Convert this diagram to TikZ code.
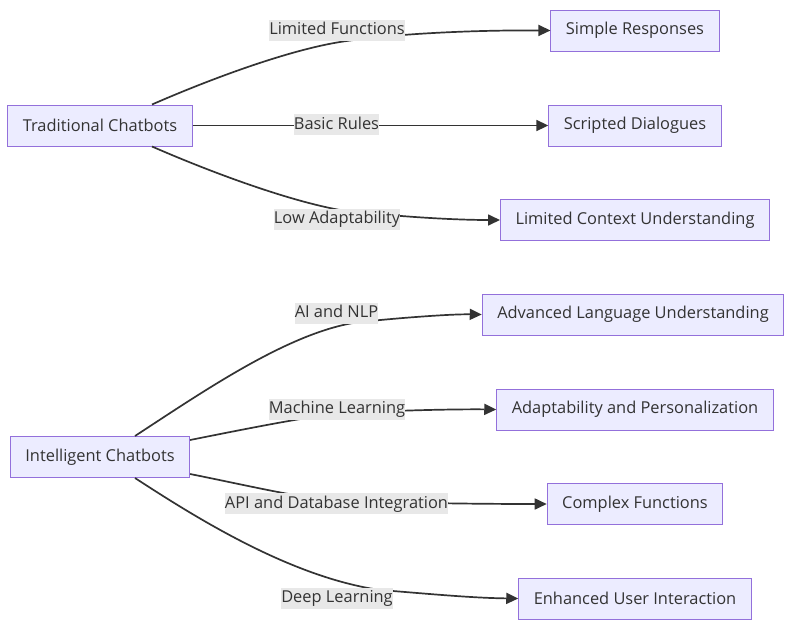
\documentclass[tikz,border=0pt]{standalone}
\usepackage{fontspec}
\setmainfont{Open Sans}
\usetikzlibrary{arrows.meta}
\definecolor{nodefill}{HTML}{ECECFF}
\definecolor{nodeline}{HTML}{9370DB}
\definecolor{txt}{HTML}{333333}
\definecolor{lblfill}{HTML}{E8E8E8}
\begin{document}
\begin{tikzpicture}[x=1pt,y=-1pt,
  box/.style={draw=nodeline, fill=nodefill, line width=1pt, text=txt,
    font=\fontsize{16.4}{19}\selectfont, minimum height=41pt, inner xsep=15pt},
  lbl/.style={fill=lblfill, text=txt, font=\fontsize{16.4}{19}\selectfont,
    inner xsep=0pt, inner ysep=2pt, text height=13pt, text depth=4pt},
  conn/.style={draw=txt, line width=1.7pt, -{Triangle[length=12pt,width=11pt]}}]
\useasboundingbox (0,0) rectangle (785,619);

% nodes
\node[box] (tc) at (100,125.5) {Traditional Chatbots};
\node[box] (sr) at (635,30.5) {Simple Responses};
\node[box] (sd) at (635,125.5) {Scripted Dialogues};
\node[box] (lc) at (635,220) {Limited Context Understanding};
\node[box] (ic) at (100,457) {Intelligent Chatbots};
\node[box] (al) at (633,314.5) {Advanced Language Understanding};
\node[box] (ap) at (635,409.5) {Adaptability and Personalization};
\node[box] (cf) at (635,504) {Complex Functions};
\node[box] (eu) at (635,598.5) {Enhanced User Interaction};

% waypoints
\coordinate (w1) at (340,42);
\coordinate (w3) at (340,210);
\coordinate (w4) at (370,321);
\coordinate (w5) at (320,416);
\coordinate (w6) at (300,496);
\coordinate (w7) at (380,590);

% connectors
\draw[conn] ([xshift=52pt]tc.north) .. controls (215,77) and (290,50) .. (w1)
  .. controls (390,34) and (470,30) .. (sr.west);
\draw[conn] (tc.east) -- (sd.west);
\draw[conn] ([xshift=52pt]tc.south) .. controls (215,174) and (290,201) .. (w3)
  .. controls (390,216) and (450,220) .. (lc.west);
\draw[conn] ([xshift=35pt]ic.north) .. controls (210,387) and (300,325) .. (w4)
  .. controls (400,318) and (450,314) .. (al.west);
\draw[conn] ([yshift=17pt]ic.east) .. controls (230,432) and (290,420) .. (w5)
  .. controls (360,411) and (450,409) .. (ap.west);
\draw[conn] ([yshift=-17pt]ic.east) .. controls (230,482) and (270,491) .. (w6)
  .. controls (340,503) and (480,504) .. (cf.west);
\draw[conn] ([xshift=35pt]ic.south) .. controls (195,517) and (290,577) .. (w7)
  .. controls (420,593) and (470,598) .. (eu.west);

% edge labels
\node[lbl] (l1) at (337,30) {Limited Functions};
\node[lbl] (l2) at (336.5,124.5) {Basic Rules};
\node[lbl] (l3) at (337,219) {Low Adaptability};
\node[lbl] (l4) at (336.5,313) {AI and NLP};
\node[lbl] (l5) at (337,409) {Machine Learning};
\node[lbl] (l6) at (336.5,503.5) {API and Database Integration};
\node[lbl] (l7) at (337,598) {Deep Learning};
\end{tikzpicture}
\end{document}
